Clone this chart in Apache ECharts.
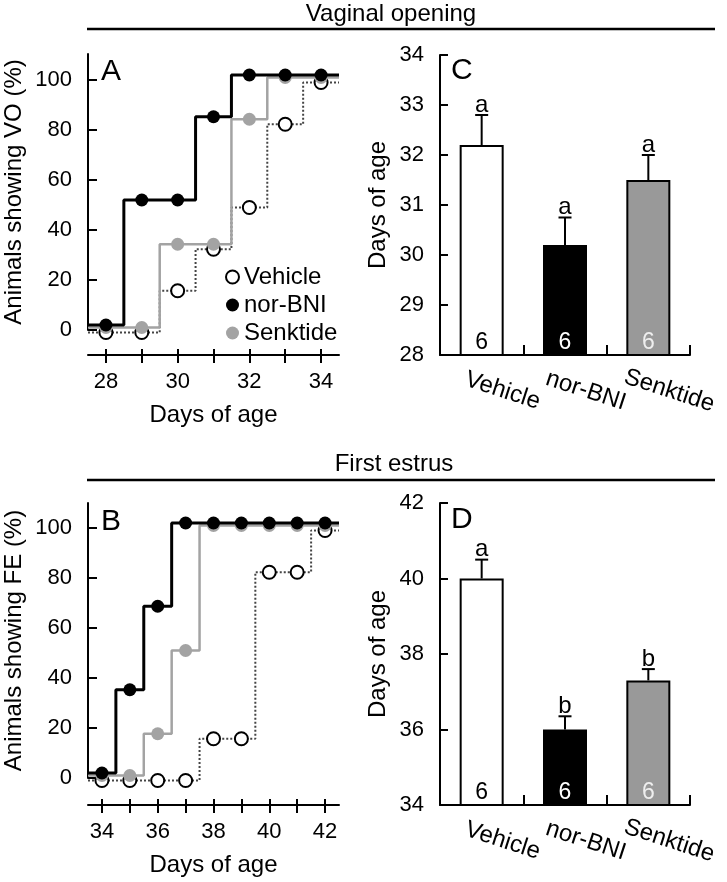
<!DOCTYPE html>
<html><head><meta charset="utf-8">
<script src="https://cdn.jsdelivr.net/npm/echarts@6/dist/echarts.min.js"></script>
<style>html,body{margin:0;padding:0;background:#fff}#c{width:727px;height:882px}</style>
</head><body><div id="c"></div>
<script>
// ---------- data ----------
const groups = ['Vehicle', 'nor-BNI', 'Senktide'];

const voDays = [28, 29, 30, 31, 32, 33, 34];
const voVehicle = [0, 0, 16.7, 33.3, 50, 83.3, 100];
const voNorBNI = [0, 50, 50, 83.3, 100, 100, 100];
const voSenktide = [0, 0, 33.3, 33.3, 83.3, 100, 100];

const feDays = [34, 35, 36, 37, 38, 39, 40, 41, 42];
const feVehicle = [0, 0, 0, 0, 16.7, 16.7, 83.3, 83.3, 100];
const feNorBNI = [0, 33.3, 66.7, 100, 100, 100, 100, 100, 100];
const feSenktide = [0, 0, 16.7, 50, 100, 100, 100, 100, 100];

const voMean = [32.2, 30.2, 31.5];
const voSem = [0.6, 0.55, 0.5];
const voLetters = ['a', 'a', 'a'];
const feMean = [40.0, 36.0, 37.3];
const feSem = [0.5, 0.35, 0.3];
const feLetters = ['a', 'b', 'b'];
const nAnimals = [6, 6, 6];

const voXTicks = [28, 29, 30, 31, 32, 33, 34];
const voXLabels = [28, 30, 32, 34];
const feXTicks = [34, 35, 36, 37, 38, 39, 40, 41, 42];
const feXLabels = [34, 36, 38, 40, 42];
const pctTicks = [0, 20, 40, 60, 80, 100];

// ---------- style ----------
const FONT = "'Liberation Sans', Arial, Helvetica, sans-serif";
const GREY = '#a3a3a3';
const BAR_GREY = '#999999';
const seriesStyle = {
  'Vehicle': { off: -1, line: { color: '#444', width: 2, type: 'dotted' }, item: { color: '#fff', borderColor: '#000', borderWidth: 2 }, z: 2 },
  'Senktide': { off: 1, line: { color: GREY, width: 2.5 }, item: { color: GREY, borderWidth: 0 }, z: 3 },
  'nor-BNI': { off: 2, line: { color: '#000', width: 3 }, item: { color: '#000', borderWidth: 0 }, z: 4 }
};

function stepSeries(name, days, vals, xMin, xMax, axisIdx) {
  const st = seriesStyle[name];
  const data = [{ value: [xMin, vals[0] + st.off], symbol: 'none' }];
  days.forEach((d, i) => data.push({ value: [d, vals[i] + st.off] }));
  data.push({ value: [xMax, vals[vals.length - 1] + st.off], symbol: 'none' });
  return {
    name, type: 'line', step: 'middle', xAxisIndex: axisIdx.x, yAxisIndex: axisIdx.y,
    data, symbol: 'circle', symbolSize: 13, showAllSymbol: true, clip: false,
    lineStyle: st.line, itemStyle: st.item, z: st.z, emphasis: { disabled: true }
  };
}

const axisLineStyle = { show: true, onZero: false, lineStyle: { color: '#000', width: 2 } };
const tickStyle = { lineStyle: { color: '#000', width: 2 } };

// data x axis (hidden) + visible x axis in a thin grid below + inner ticks
function pctXAxes(dataGrid, axisGrid, min, max, ticks, labels) {
  return [{
    type: 'value', gridIndex: dataGrid, min, max, show: false
  }, {
    type: 'value', gridIndex: axisGrid, min, max, position: 'bottom',
    axisLine: axisLineStyle, splitLine: { show: false },
    axisTick: { show: true, inside: false, length: 8, customValues: ticks, ...tickStyle },
    axisLabel: { customValues: labels, fontSize: 22, color: '#000', margin: 16, fontFamily: FONT },
    name: 'Days of age', nameLocation: 'middle', nameGap: 48,
    nameTextStyle: { fontSize: 24, color: '#000', fontFamily: FONT }
  }, {
    type: 'value', gridIndex: axisGrid, min, max, position: 'bottom',
    axisLine: { show: false, onZero: false }, splitLine: { show: false },
    axisTick: { show: true, inside: true, length: 6, customValues: ticks, ...tickStyle },
    axisLabel: { show: false }
  }];
}
function pctYAxis(grid, max, name) {
  return {
    type: 'value', gridIndex: grid, min: 0, max,
    axisLine: axisLineStyle, splitLine: { show: false },
    axisTick: { show: true, inside: true, length: 9, customValues: pctTicks, ...tickStyle },
    axisLabel: { customValues: pctTicks, fontSize: 22, color: '#000', margin: 16, fontFamily: FONT },
    name, nameLocation: 'middle', nameGap: 62,
    nameTextStyle: { fontSize: 24, color: '#000', fontFamily: FONT }
  };
}
function dummyYAxis(grid) {
  return { type: 'value', gridIndex: grid, min: 0, max: 1, show: false };
}
function barXAxis(grid) {
  return {
    type: 'category', gridIndex: grid, data: groups,
    axisLine: axisLineStyle,
    axisTick: { show: true, inside: true, length: 10, ...tickStyle },
    axisLabel: { rotate: -18, align: 'center', padding: [0, 0, 0, 44], margin: 29, fontSize: 24, color: '#000', fontFamily: FONT, interval: 0 }
  };
}
function barYAxis(grid, min, max, interval) {
  return {
    type: 'value', gridIndex: grid, min, max, interval,
    axisLine: axisLineStyle, splitLine: { show: false },
    axisTick: { show: true, inside: true, length: 8, ...tickStyle },
    axisLabel: { fontSize: 22, color: '#000', margin: 16, fontFamily: FONT },
    name: 'Days of age', nameLocation: 'middle', nameGap: 50,
    nameTextStyle: { fontSize: 24, color: '#000', fontFamily: FONT }
  };
}

const barFills = ['#ffffff', '#000000', BAR_GREY];
const nColors = ['#000000', '#ffffff', '#eeeeee'];
function barSeries(means, xi, yi) {
  return {
    type: 'bar', xAxisIndex: xi, yAxisIndex: yi, barWidth: 44,
    data: means.map((m, i) => ({ value: m, itemStyle: { color: barFills[i] }, label: { color: nColors[i] } })),
    itemStyle: { borderColor: '#000', borderWidth: 2 },
    label: { show: true, position: 'insideBottom', distance: 2, fontSize: 23, fontFamily: FONT,
      formatter: p => String(nAnimals[p.dataIndex]) },
    emphasis: { disabled: true }, z: 2
  };
}
function errSeries(means, sems, letters, xi, yi) {
  return {
    type: 'custom', xAxisIndex: xi, yAxisIndex: yi, z: 3, clip: false,
    data: means.map((m, i) => [i, m, sems[i]]),
    encode: { x: 0, y: 1 },
    renderItem: (params, api) => {
      const i = api.value(0), m = api.value(1), s = api.value(2);
      const p0 = api.coord([i, m]);
      const p1 = api.coord([i, m + s]);
      const ls = { stroke: '#000', lineWidth: 2 };
      return {
        type: 'group', children: [
          { type: 'line', shape: { x1: p0[0], y1: p0[1], x2: p1[0], y2: p1[1] }, style: ls },
          { type: 'line', shape: { x1: p1[0] - 6.5, y1: p1[1], x2: p1[0] + 6.5, y2: p1[1] }, style: ls },
          { type: 'text', x: p1[0], y: p1[1] + 2,
            style: { text: letters[params.dataIndex], fill: '#000', fontSize: 24, fontFamily: FONT, align: 'center', verticalAlign: 'bottom' } }
        ]
      };
    }
  };
}

const chart = echarts.init(document.getElementById('c'), null, { renderer: 'canvas' });

// grids: 0 A-data, 1 A-xaxis, 2 C, 3 B-data, 4 B-xaxis, 5 D
const xAxes = [
  ...pctXAxes(0, 1, 27.5, 34.5, voXTicks, voXLabels),   // 0 (A data), 1, 2
  barXAxis(2),                                          // 3 (C)
  ...pctXAxes(3, 4, 33.5, 42.5, feXTicks, feXLabels),   // 4 (B data), 5, 6
  barXAxis(5)                                           // 7 (D)
];
const yAxes = [
  pctYAxis(0, 110.4, 'Animals showing VO (%)'),         // 0 (A)
  dummyYAxis(1),                                        // 1
  barYAxis(2, 28, 34, 1),                               // 2 (C)
  pctYAxis(3, 110, 'Animals showing FE (%)'),           // 3 (B)
  dummyYAxis(4),                                        // 4
  barYAxis(5, 34, 42, 2)                                // 5 (D)
];

const option = {
  animation: false,
  backgroundColor: '#fff',
  textStyle: { fontFamily: FONT, color: '#000' },
  grid: [
    { left: 88, top: 54, width: 251, height: 276 },
    { left: 88, top: 354, width: 251, height: 1 },
    { left: 440, top: 55, width: 250, height: 300 },
    { left: 88, top: 503, width: 251, height: 275 },
    { left: 88, top: 804, width: 251, height: 1 },
    { left: 440, top: 503, width: 250, height: 302 }
  ],
  xAxis: xAxes,
  yAxis: yAxes,
  legend: {
    orient: 'vertical', left: 225, top: 265, padding: 0, itemGap: 4,
    itemWidth: 13, itemHeight: 13, icon: 'circle', selectedMode: false,
    textStyle: { fontSize: 24, color: '#000', fontFamily: FONT },
    data: [
      { name: 'Vehicle', itemStyle: { color: '#fff', borderColor: '#000', borderWidth: 2 } },
      { name: 'nor-BNI', itemStyle: { color: '#000', borderWidth: 0 } },
      { name: 'Senktide', itemStyle: { color: GREY, borderWidth: 0 } }
    ]
  },
  series: [
    stepSeries('Vehicle', voDays, voVehicle, 27.5, 34.5, { x: 0, y: 0 }),
    stepSeries('Senktide', voDays, voSenktide, 27.5, 34.5, { x: 0, y: 0 }),
    stepSeries('nor-BNI', voDays, voNorBNI, 27.5, 34.5, { x: 0, y: 0 }),
    stepSeries('Vehicle', feDays, feVehicle, 33.5, 42.5, { x: 4, y: 3 }),
    stepSeries('Senktide', feDays, feSenktide, 33.5, 42.5, { x: 4, y: 3 }),
    stepSeries('nor-BNI', feDays, feNorBNI, 33.5, 42.5, { x: 4, y: 3 }),
    barSeries(voMean, 3, 2),
    errSeries(voMean, voSem, voLetters, 3, 2),
    barSeries(feMean, 7, 5),
    errSeries(feMean, feSem, feLetters, 7, 5)
  ],
  graphic: [
    { type: 'text', x: 391, y: 14, style: { text: 'Vaginal opening', fontSize: 24, fontFamily: FONT, fill: '#000', align: 'center', verticalAlign: 'middle' } },
    { type: 'line', shape: { x1: 87, y1: 29, x2: 715, y2: 29 }, style: { stroke: '#000', lineWidth: 2.5 } },
    { type: 'text', x: 394, y: 464, style: { text: 'First estrus', fontSize: 24, fontFamily: FONT, fill: '#000', align: 'center', verticalAlign: 'middle' } },
    { type: 'line', shape: { x1: 87, y1: 480, x2: 715, y2: 480 }, style: { stroke: '#000', lineWidth: 2.5 } },
    { type: 'text', x: 101, y: 72, style: { text: 'A', fontSize: 30, fontFamily: FONT, fill: '#000', verticalAlign: 'middle' } },
    { type: 'text', x: 451, y: 71, style: { text: 'C', fontSize: 30, fontFamily: FONT, fill: '#000', verticalAlign: 'middle' } },
    { type: 'text', x: 101, y: 522, style: { text: 'B', fontSize: 30, fontFamily: FONT, fill: '#000', verticalAlign: 'middle' } },
    { type: 'text', x: 451, y: 520, style: { text: 'D', fontSize: 30, fontFamily: FONT, fill: '#000', verticalAlign: 'middle' } }
  ]
};
chart.setOption(option);
</script>
</body></html>
